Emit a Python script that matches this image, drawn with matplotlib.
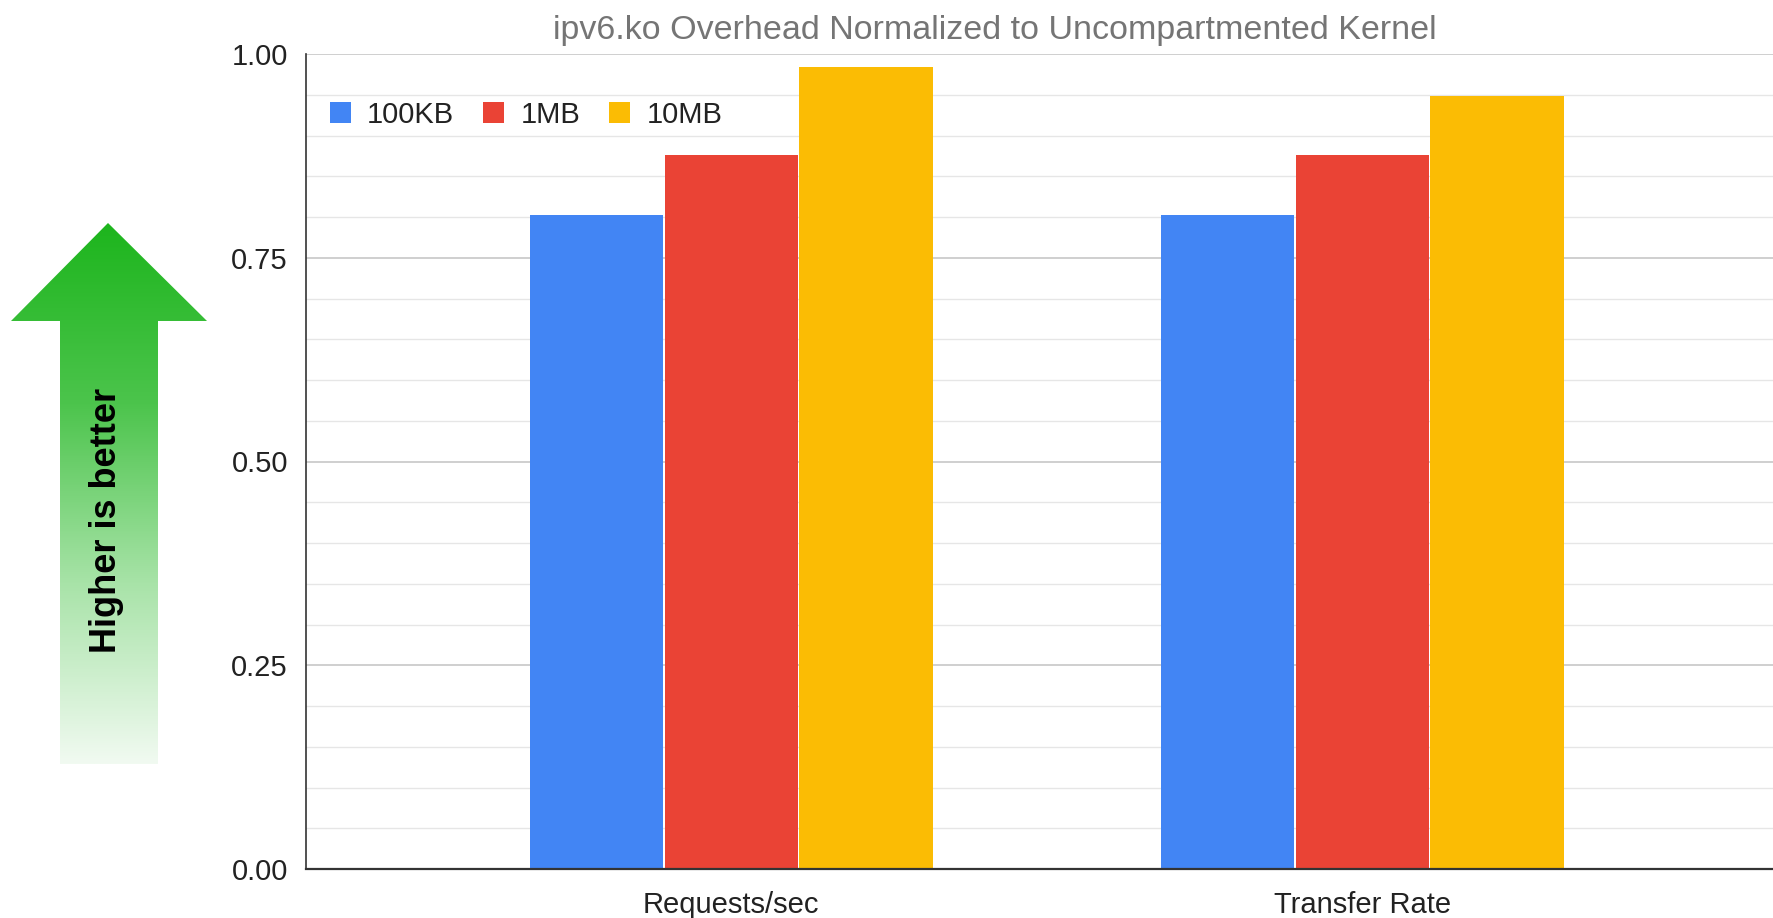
import numpy as np
import matplotlib
matplotlib.use('Agg')
import matplotlib.pyplot as plt
from matplotlib.patches import Polygon
from matplotlib.colors import LinearSegmentedColormap

plt.rcParams['font.family'] = ['Liberation Sans', 'DejaVu Sans']

#Data: normalized throughput per transfer size
categories = ['Requests/sec', 'Transfer Rate']
sizes = ['100KB', '1MB', '10MB']
val_100kb = [0.802, 0.802]
val_1mb = [0.876, 0.876]
val_10mb = [0.984, 0.949]
colors = ['#4285f4', '#ea4335', '#fbbc04']

W, H = 1773, 918
fig = plt.figure(figsize=(W / 100, H / 100), dpi=100)
ax = fig.add_axes([306 / W, 49 / H, 1 - 306 / W, 815 / H])

x = np.arange(len(categories))
width = 0.211
step = 0.2135
for i, (vals, lab) in enumerate(zip([val_100kb, val_1mb, val_10mb], sizes)):
	ax.bar(x + (i - 1) * step, vals, width, color=colors[i], label=lab, zorder=3)

ax.set_xlim(-0.674, 1.651)
ax.set_ylim(0, 1.0)
ax.set_yticks([0, 0.25, 0.5, 0.75, 1.0])
ax.set_yticklabels(['0.00', '0.25', '0.50', '0.75', '1.00'])
ax.set_yticks(np.arange(0, 1.0001, 0.05), minor=True)
ax.set_xticks(x)
ax.set_xticklabels(categories)
ax.tick_params(axis='both', length=0, labelsize=21, colors='#222222')
ax.tick_params(axis='y', pad=13)
ax.tick_params(axis='x', labelsize=21, pad=16)
ax.tick_params(axis='y', which='minor', length=0)
ax.grid(axis='y', which='major', color='#cccccc', linewidth=1.3, zorder=0)
ax.grid(axis='y', which='minor', color='#e6e6e6', linewidth=1.0, zorder=0)
for s in ['top', 'right']:
	ax.spines[s].set_visible(False)
ax.spines['left'].set_color('#333333')
ax.spines['left'].set_linewidth(1.2)
ax.spines['bottom'].set_color('#333333')
ax.spines['bottom'].set_linewidth(1.6)
ax.spines['bottom'].set_zorder(4)

leg = ax.legend(loc='center left', bbox_to_anchor=(330 / W, 1 - 115 / H), bbox_transform=fig.transFigure,
	ncol=3, frameon=False, fontsize=21, handlelength=0.72, handleheight=0.72, handletextpad=0.55,
	columnspacing=1.0, borderaxespad=0, borderpad=0)
for t in leg.get_texts():
	t.set_color('#222222')

fig.text(995 / W, 1 - 30 / H, 'ipv6.ko Overhead Normalized to Uncompartmented Kernel',
	ha='center', va='center', fontsize=24.5, color='#757575')

#Gradient arrow on the left, drawn in pixel coordinates
ov = fig.add_axes([0, 0, 1, 1], zorder=-1)
ov.set_xlim(0, W)
ov.set_ylim(H, 0)
ov.axis('off')
arrow_pts = [(108, 223), (207, 321), (158, 321), (158, 764), (60, 764), (60, 321), (11, 321)]
cmap = LinearSegmentedColormap.from_list('grn', ['#1db51d', '#4cc44c', '#a8e3a8', '#f1faf1'])
grad = np.linspace(0, 1, 256).reshape(-1, 1)
img = ov.imshow(grad, cmap=cmap, extent=(11, 207, 764, 223), aspect='auto')
clip = Polygon(arrow_pts, closed=True, transform=ov.transData, facecolor='none', edgecolor='none')
ov.add_patch(clip)
img.set_clip_path(clip)
ov.text(107, 520, 'Higher is better', rotation=90, ha='center', va='center',
	fontsize=26, fontweight='bold', color='black')

plt.savefig('out.png', dpi=100)
